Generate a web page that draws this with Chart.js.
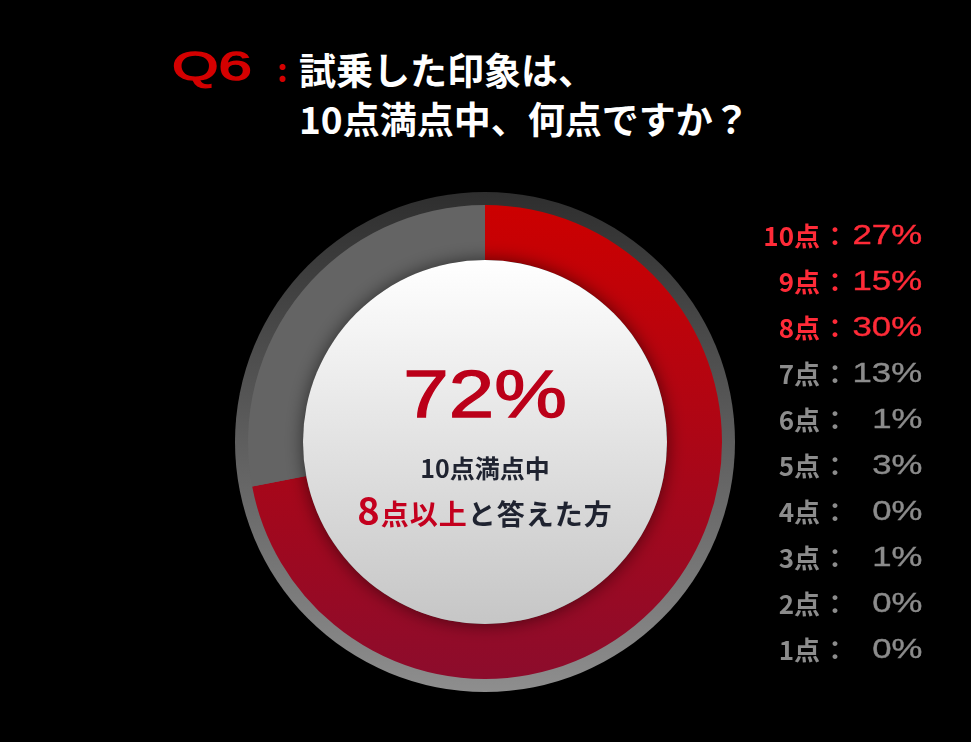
<!DOCTYPE html>
<html lang="ja">
<head>
<meta charset="utf-8">
<script src="https://cdn.jsdelivr.net/npm/chart.js@4.4.1/dist/chart.umd.min.js"></script>
<style>
  html, body { margin: 0; padding: 0; background: #000; }
  body { width: 971px; height: 742px; position: relative; overflow: hidden;
         font-family: "Noto Sans CJK JP", "Noto Sans", sans-serif; }
  .wide { display: inline-block; font-family: "Liberation Sans", sans-serif; transform-origin: right center; }
  #q { position: absolute; left: 172px; top: 43px; color: #d40000; font-family: "Liberation Sans", sans-serif;
       font-size: 41px; transform: scaleX(1.46); transform-origin: left top; -webkit-text-stroke: 1.4px #d40000; }
  #colon { position: absolute; left: 277px; top: 45px; color: #d40000; font-size: 32px; font-weight: 700; }
  .tline { position: absolute; left: 299px; color: #fff; font-size: 37px; font-weight: 700;
           white-space: nowrap; }
  #wrap { position: absolute; left: 235px; top: 192px; width: 500px; height: 500px; }
  #center { position: absolute; left: 285px; top: 354px; width: 400px; text-align: center; }
  #big { color: #bb0019; font-family: "Liberation Sans", sans-serif; font-size: 67px; line-height: 80px;
         display: inline-block; transform: scaleX(1.22); -webkit-text-stroke: 1.3px #bb0019; }
  #sub1 { color: #1f2330; font-size: 25px; font-weight: 700; margin-top: 16px; line-height: 34px; }
  #sub2 { color: #1f2330; font-size: 28px; font-weight: 700; line-height: 50px; letter-spacing: 1px; }
  #sub2 .r { color: #c4001e; }
  #sub2 .n { font-size: 38px; }
  #legend { position: absolute; left: 700px; top: 216px; width: 222px; }
  .row { position: relative; height: 46px; white-space: nowrap; font-weight: 700; font-size: 26px; }
  .row .lab { position: absolute; right: 102px; top: 0; }
  .row .col { position: absolute; right: 74px; top: 0; }
  .row .pct { position: absolute; right: 0; top: 3px; font-weight: 400; font-size: 28px;
              -webkit-text-stroke: 0.4px currentColor; }
</style>
</head>
<body>
<div id="q">Q6</div>
<div id="colon">:</div>
<div class="tline" style="top:42px">試乗した印象は、</div>
<div class="tline" style="top:91px">10点満点中、何点ですか？</div>

<div id="wrap"><canvas id="chart"></canvas></div>

<div id="center">
  <div><span id="big">72%</span></div>
  <div id="sub1">10点満点中</div>
  <div id="sub2"><span class="r"><span class="n">8</span>点以上</span>と答えた方</div>
</div>

<div id="legend"></div>

<script>
// 円グラフの値（8点以上 / それ以外）
const segments = ["8点以上", "7点以下"];
const segmentValues = [72, 28];

// 右側の内訳
const scoreLabels = ["10点", "9点", "8点", "7点", "6点", "5点", "4点", "3点", "2点", "1点"];
const scorePercents = [27, 15, 30, 13, 1, 3, 0, 1, 0, 0];
const highlightCount = 3;

const legend = document.getElementById("legend");
scoreLabels.forEach((lab, i) => {
  const color = i < highlightCount ? "#ff2b38" : "#8c8c8c";
  const row = document.createElement("div");
  row.className = "row";
  row.style.color = color;
  row.innerHTML =
    '<span class="lab">' + lab + '</span>' +
    '<span class="col">：</span>' +
    '<span class="pct wide" style="transform:scaleX(1.24)">' + scorePercents[i] + '%</span>';
  legend.appendChild(row);
});

// 外側の縁と中央の円を描くプラグイン
const decoPlugin = {
  id: "deco",
  beforeDatasetsDraw(chart) {
    const arc = chart.getDatasetMeta(0).data[0];
    if (!arc) return;
    const ctx = chart.ctx;
    const r = arc.outerRadius + 13;
    const g = ctx.createLinearGradient(0, arc.y - r, 0, arc.y + r);
    g.addColorStop(0, "#2e2e2e");
    g.addColorStop(1, "#8e8e8e");
    ctx.save();
    ctx.beginPath();
    ctx.arc(arc.x, arc.y, r, 0, Math.PI * 2);
    ctx.fillStyle = g;
    ctx.fill();
    ctx.restore();
  },
  afterDatasetsDraw(chart) {
    const arc = chart.getDatasetMeta(0).data[0];
    if (!arc) return;
    const ctx = chart.ctx;
    const r = arc.innerRadius;
    const g = ctx.createLinearGradient(0, arc.y - r, 0, arc.y + r);
    g.addColorStop(0, "#ffffff");
    g.addColorStop(1, "#c6c6c6");
    ctx.save();
    ctx.shadowColor = "rgba(0,0,0,0.55)";
    ctx.shadowBlur = 18;
    ctx.beginPath();
    ctx.arc(arc.x, arc.y, r, 0, Math.PI * 2);
    ctx.fillStyle = g;
    ctx.fill();
    ctx.restore();
  }
};

const ctx = document.getElementById("chart").getContext("2d");
new Chart(ctx, {
  type: "doughnut",
  data: {
    labels: segments,
    datasets: [{
      data: segmentValues,
      backgroundColor: (c) => {
        if (c.dataIndex === 1) return "#646464";
        const area = c.chart.chartArea;
        if (!area) return "#b00010";
        const g = c.chart.ctx.createLinearGradient(0, area.top, 0, area.bottom);
        g.addColorStop(0, "#cc0000");
        g.addColorStop(1, "#8c0c2c");
        return g;
      },
      borderWidth: 0
    }]
  },
  options: {
    responsive: true,
    maintainAspectRatio: false,
    animation: false,
    cutout: 182,
    layout: { padding: 13 },
    plugins: {
      legend: { display: false },
      tooltip: { enabled: false }
    }
  },
  plugins: [decoPlugin]
});
</script>
</body>
</html>
